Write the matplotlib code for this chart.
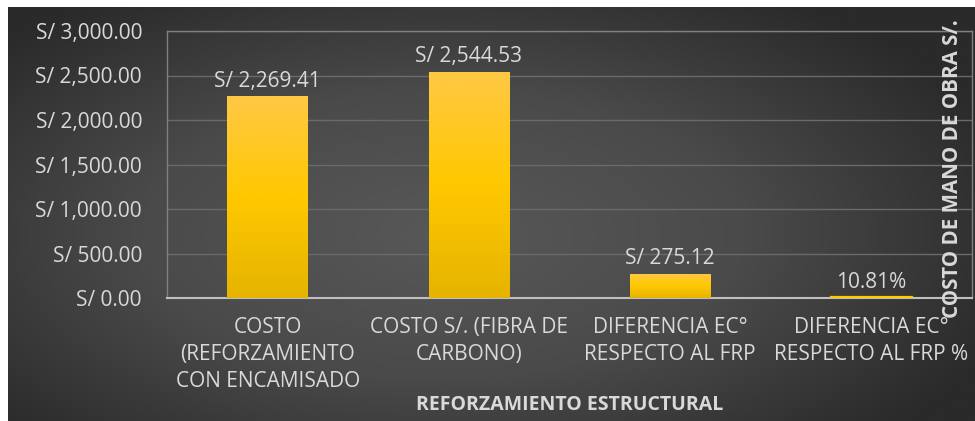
import matplotlib.pyplot as plt
import numpy as np
from matplotlib.colors import LinearSegmentedColormap

# datos
categorias = ["COSTO\n(REFORZAMIENTO\nCON ENCAMISADO",
              "COSTO S/. (FIBRA DE\nCARBONO)",
              "DIFERENCIA EC°\nRESPECTO AL FRP",
              "DIFERENCIA EC°\nRESPECTO AL FRP %"]
valores = [2269.41, 2544.53, 275.12, 10.81]
etiquetas = ["S/ 2,269.41", "S/ 2,544.53", "S/ 275.12", "10.81%"]
ticks_y = [0, 500, 1000, 1500, 2000, 2500, 3000]
ticks_y_txt = ["S/ 0.00", "S/ 500.00", "S/ 1,000.00", "S/ 1,500.00",
               "S/ 2,000.00", "S/ 2,500.00", "S/ 3,000.00"]

plt.rcParams['font.family'] = ['Open Sans', 'DejaVu Sans']
gris_txt = '#d9d9d9'

W, H = 975, 421
fig = plt.figure(figsize=(W / 100, H / 100), dpi=100)
fig.patch.set_facecolor('white')

# fondo con degradado radial
bg = fig.add_axes([8 / W, 0, (W - 8) / W, (H - 7) / H])
yy, xx = np.mgrid[-1:1:300j, -1:1:600j]
r = np.sqrt(((xx + 0.1) * 1.0) ** 2 + ((yy + 0.1) * 0.9) ** 2)
fondo = LinearSegmentedColormap.from_list('fondo', ['#585858', '#4a4a4a', '#2a2a2a'])
bg.imshow(np.clip(r / 1.25, 0, 1), cmap=fondo, vmin=0, vmax=1, aspect='auto',
          extent=(0, 1, 0, 1), origin='lower')
bg.axis('off')

ax = fig.add_axes([167 / W, (H - 298) / H, (972 - 167) / W, (298 - 31) / H])
ax.patch.set_alpha(0)

x = np.arange(len(valores))
barras = ax.bar(x, valores, width=0.4, color='none', zorder=3)

amarillo = LinearSegmentedColormap.from_list('amarillo', ['#e6b400', '#ffc800', '#ffc845'])
grad = np.linspace(0, 1, 256).reshape(-1, 1)
for b in barras:
    x0 = b.get_x()
    if b.get_height() < 30:
        # barra casi nula: se ve como una linea
        ax.plot([x0, x0 + b.get_width()], [b.get_height()] * 2,
                color='#ffc800', lw=1.6, zorder=4)
        continue
    im = ax.imshow(grad, cmap=amarillo, aspect='auto', origin='lower',
                   extent=(x0, x0 + b.get_width(), 0, b.get_height()), zorder=3)
    im.set_clip_path(b)

for xi, v, t in zip(x, valores, etiquetas):
    ax.annotate(t, (xi, v), xytext=(0, 3), textcoords='offset points',
                ha='center', va='bottom', color=gris_txt, fontsize=15)

ax.set_xlim(-0.5, 3.5)
ax.set_ylim(0, 3000)
ax.set_yticks(ticks_y)
ax.set_yticklabels(ticks_y_txt)
ax.set_xticks(x)
ax.set_xticklabels(categorias, linespacing=1.35)
ax.tick_params(axis='y', length=0, pad=18, labelcolor=gris_txt, labelsize=15)
ax.tick_params(axis='x', length=0, pad=14, labelcolor=gris_txt, labelsize=15)
ax.grid(axis='y', color='#6a6a6a', lw=1, zorder=0)
for s in ['top', 'right', 'left']:
    ax.spines[s].set_color('#808080')
    ax.spines[s].set_linewidth(1)
ax.spines['bottom'].set_color('#bfbfbf')
ax.spines['bottom'].set_linewidth(1.5)

fig.text(953 / W, 1 - 169 / H, "COSTO DE MANO DE OBRA S/.", rotation=90,
         ha='center', va='center', color=gris_txt, fontsize=14.8, fontweight='bold')
fig.text(570 / W, 1 - 405 / H, "REFORZAMIENTO ESTRUCTURAL", ha='center', va='center',
         color=gris_txt, fontsize=14, fontweight='bold')

fig.savefig('out.png', dpi=100)
